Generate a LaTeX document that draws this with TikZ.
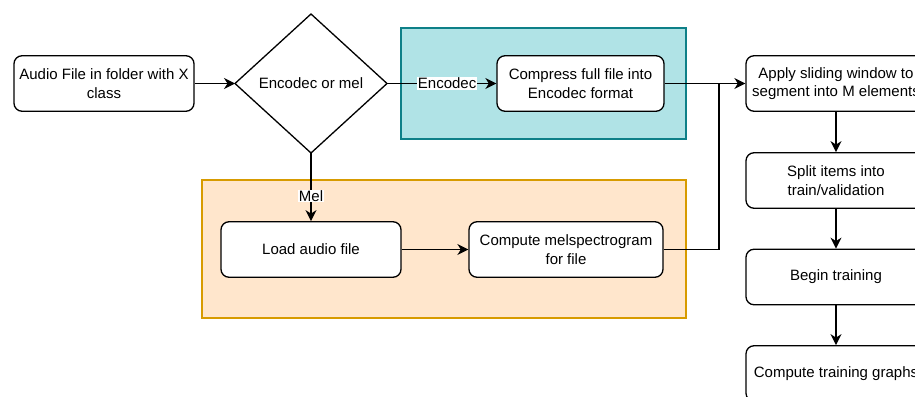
\documentclass[tikz,border=0pt]{standalone}
\usepackage{fontspec}
\setmainfont{Liberation Sans}
\usetikzlibrary{arrows.meta,shapes.geometric}
\definecolor{tealfill}{HTML}{B0E3E6}
\definecolor{tealline}{HTML}{0E8088}
\definecolor{orfill}{HTML}{FFE6CC}
\definecolor{orline}{HTML}{D79B00}
\tikzset{
  every node/.style={font=\fontsize{15}{18.7}\selectfont},
  procbox/.style={draw, rounded corners=8pt, fill=white, line width=1.3pt, minimum width=180pt, minimum height=55.5pt, inner sep=0pt, align=center},
  flow/.style={line width=1.3pt, -{Stealth[length=11pt,width=11pt,inset=3.5pt]}},
  plain/.style={line width=1.3pt},
  lbl/.style={fill=white, inner sep=0.5pt},
}
\begin{document}
\begin{tikzpicture}[x=1pt,y=-1pt]
\useasboundingbox (0,0) rectangle (915,396);
\clip (0,0) rectangle (915,396);
% containers
\draw[fill=tealfill, draw=tealline, line width=1.3pt] (401,28) rectangle (686,139);
\draw[fill=orfill, draw=orline, line width=1.3pt] (202,180) rectangle (686,318);
% nodes
\node[procbox] (audio) at (104,83.5) {Audio File in folder with X\\class};
\coordinate (dc) at (311,83.5);
\draw[fill=white, line width=1.3pt] (235,83.5) -- (311,14) -- (387,83.5) -- (311,153) -- cycle;
\coordinate (dl) at (235,83.5);
\coordinate (dr) at (387,83.5);
\coordinate (db) at (311,153);
\node (dec) at (dc) {Encodec or mel};
\node[procbox, minimum width=167pt] (compress) at (580.5,83.5) {Compress full file into\\Encodec format};
\node[procbox] (load) at (311,249.5) {Load audio file};
\node[procbox, minimum width=194pt] (mels) at (566,249.5) {Compute melspectrogram\\for file};
\node[procbox] (apply) at (836,83.5) {Apply sliding window to\\segment into M elements};
\node[procbox] (split) at (836,180.5) {Split items into\\train/validation};
\node[procbox] (begin) at (836,277) {Begin training};
\node[procbox] (graphs) at (836,373.5) {Compute training graphs};
\coordinate (join) at (719,83.5);
% connectors
\draw[flow] (audio.east) -- (dl);
\draw[flow] (dr) -- node[lbl, pos=0.55] {Encodec} (compress.west);
\draw[flow] (db) -- node[lbl, pos=0.63] {Mel} (load.north);
\draw[flow] (load.east) -- (mels.west);
\draw[flow] (compress.east) -- (apply.west);
\draw[plain] (mels.east) -| (join);
\draw[flow] (apply.south) -- (split.north);
\draw[flow] (split.south) -- (begin.north);
\draw[flow] (begin.south) -- (graphs.north);
\end{tikzpicture}
\end{document}
